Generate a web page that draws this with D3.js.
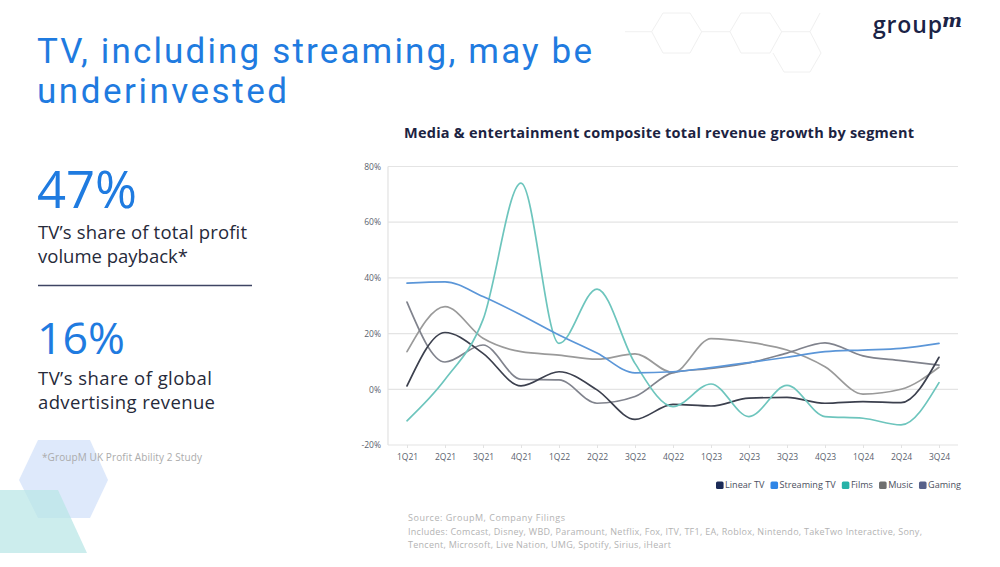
<!DOCTYPE html>
<html>
<head>
<meta charset="utf-8">
<script src="https://cdn.jsdelivr.net/npm/d3@7"></script>
<style>
  html, body { margin: 0; padding: 0; background: #ffffff; }
  svg { display: block; }
</style>
</head>
<body>
<svg id="chart" width="1000" height="567"></svg>
<script>
// ---------------- DATA ----------------
const quarters = ["1Q21","2Q21","3Q21","4Q21","1Q22","2Q22","3Q22","4Q22","1Q23","2Q23","3Q23","4Q23","1Q24","2Q24","3Q24"];
const linearTV    = [1.2, 20.4, 12.9, 1.2, 6.3, -0.2, -10.8, -5.4, -6.0, -3.2, -2.9, -5.0, -4.4, -4.8, 11.5];
const streamingTV = [38.1, 38.6, 33.3, 26.7, 19.5, 13.0, 5.9, 6.3, 7.8, 9.6, 11.5, 13.5, 14.1, 14.7, 16.5];
const films       = [-11.3, 3.5, 25.0, 74.0, 16.5, 36.0, 9.3, -6.2, 1.9, -9.8, 1.4, -9.8, -10.4, -12.8, 2.4];
const music       = [13.5, 29.7, 18.3, 13.5, 12.3, 10.8, 12.7, 6.0, 18.2, 16.9, 14.1, 8.1, -1.7, 0.0, 7.9];
const gaming      = [31.3, 9.8, 15.9, 3.6, 3.4, -5.0, -2.6, 6.0, 7.5, 9.5, 13.0, 16.7, 12.0, 10.3, 8.7];
const yTicks = [-20, 0, 20, 40, 60, 80];
const seriesNames = ["Linear TV", "Streaming TV", "Films", "Music", "Gaming"];
const seriesValues = [linearTV, streamingTV, films, music, gaming];
const legendColors = ["#1b2b57", "#2f86e6", "#26b2a7", "#6f6f6f", "#58618a"];
const lineColors   = ["#3c404e", "#5b96d8", "#6dc5bd", "#9a9a9a", "#80838d"];
const titleLines = ["TV, including streaming, may be", "underinvested"];

const FONT = "'Open Sans', 'Noto Sans', sans-serif";
const TITLE_FONT = "Roboto, 'Open Sans', sans-serif";
const svg = d3.select("#chart");

// match a target width: widen with letter-spacing, or shrink the font if too wide
function spread(sel, target) {
  const node = sel.node();
  let w = node.getComputedTextLength();
  if (w > target) {
    const fs = parseFloat(sel.attr("font-size"));
    sel.attr("font-size", fs * target / w);
    return sel;
  }
  const n = sel.text().length;
  if (n > 1) sel.attr("letter-spacing", (target - w) / (n - 1));
  return sel;
}

// ---------------- DECORATIONS ----------------
svg.append("rect").attr("width", 1000).attr("height", 567).attr("fill", "#ffffff");

const deco = svg.append("g");
deco.append("polygon")
  .attr("points", "19,480 38,440 90,440 108,480 90,518 38,518")
  .attr("fill", "#dee9fb");
deco.append("polygon")
  .attr("points", "0,490 58,490 87,553 0,553")
  .attr("fill", "#b9e6e6").attr("opacity", 0.72);

const hex = svg.append("g").attr("fill", "none").attr("stroke", "#f0f0f0").attr("stroke-width", 1);
hex.append("polyline").attr("points", "625,31.7 651.7,31.7 663,13 690,13 701.7,31.7 690,53 663,53 651.7,31.7");
hex.append("polyline").attr("points", "701.7,31.7 730,31.7 741,13 770,13 781.7,31.7 770,53 741,53 730,31.7");
hex.append("polyline").attr("points", "781.7,31.7 810,31.7 820,13");
hex.append("polyline").attr("points", "810,31.7 821,53 810,72 784,72 773,53");

// ---------------- LEFT PANEL ----------------
const blue = "#1f7be0";
const ink = "#262a3a";
const tWidths = [555, 250];
const tYs = [63, 103];
titleLines.forEach((s, i) => {
  spread(svg.append("text").attr("x", 37).attr("y", tYs[i]).attr("font-family", TITLE_FONT)
    .attr("font-size", 35).attr("fill", blue).text(s), tWidths[i]);
});

spread(svg.append("text").attr("x", 37).attr("y", 208).attr("font-family", FONT).attr("font-size", 52)
  .attr("fill", blue).text("47%"), 100);
spread(svg.append("text").attr("x", 38).attr("y", 239).attr("font-family", FONT).attr("font-size", 18.5)
  .attr("fill", ink).text("TV\u2019s share of total profit"), 209);
spread(svg.append("text").attr("x", 38).attr("y", 263).attr("font-family", FONT).attr("font-size", 18.5)
  .attr("fill", ink).text("volume payback*"), 150);
svg.append("line").attr("x1", 38).attr("x2", 252).attr("y1", 285.5).attr("y2", 285.5)
  .attr("stroke", "#3e4463").attr("stroke-width", 1.4);
spread(svg.append("text").attr("x", 37).attr("y", 354).attr("font-family", FONT).attr("font-size", 52)
  .attr("fill", blue).text("16%"), 88);
spread(svg.append("text").attr("x", 38).attr("y", 385).attr("font-family", FONT).attr("font-size", 18.5)
  .attr("fill", ink).text("TV\u2019s share of global"), 174);
spread(svg.append("text").attr("x", 38).attr("y", 409).attr("font-family", FONT).attr("font-size", 18.5)
  .attr("fill", ink).text("advertising revenue"), 177);
spread(svg.append("text").attr("x", 42).attr("y", 460.5).attr("font-family", FONT).attr("font-size", 10)
  .attr("fill", "#ababab").text("*GroupM UK Profit Ability 2 Study"), 160);

// ---------------- LOGO ----------------
spread(svg.append("text").attr("x", 873).attr("y", 33).attr("font-family", FONT).attr("font-size", 23)
  .attr("font-weight", 600).attr("fill", "#1b2346").text("group"), 69);
svg.append("text").attr("x", 942).attr("y", 27).attr("font-family", "'DejaVu Serif', serif")
  .attr("font-style", "italic").attr("font-weight", 700).attr("font-size", 19).attr("fill", "#1b2346").text("m");

// ---------------- CHART ----------------
spread(svg.append("text").attr("x", 404).attr("y", 138).attr("font-family", FONT).attr("font-size", 14.5)
  .attr("font-weight", 700).attr("fill", "#1c2342")
  .text("Media & entertainment composite total revenue growth by segment"), 510);

const x = d3.scalePoint().domain(quarters).range([388, 958]).padding(0.5);
const y = d3.scaleLinear().domain([-20, 80]).range([445, 166.5]);

const grid = svg.append("g");
grid.selectAll("line.h").data(yTicks).join("line")
  .attr("x1", 388).attr("x2", 958)
  .attr("y1", d => y(d)).attr("y2", d => y(d))
  .attr("stroke", "#e4e4e4").attr("stroke-width", 1.2);
grid.append("line").attr("x1", 388).attr("x2", 388).attr("y1", y(80)).attr("y2", y(-20))
  .attr("stroke", "#e2e2e2").attr("stroke-width", 1.2);

// y axis labels
const yAxis = d3.axisLeft(y).tickValues(yTicks).tickFormat(d => d + "%").tickSize(0).tickPadding(7);
const gy = svg.append("g").attr("transform", "translate(388,0)").call(yAxis);
gy.select(".domain").remove();
gy.selectAll("text").attr("font-family", FONT).attr("font-size", 8.5).attr("fill", "#5a5f6e");

// x axis labels
const xAxis = d3.axisBottom(x).tickSize(3).tickPadding(6);
const gx = svg.append("g").attr("transform", `translate(0,${y(-20)})`).call(xAxis);
gx.select(".domain").remove();
gx.selectAll("line").attr("stroke", "#e2e2e2");
gx.selectAll("text").attr("font-family", FONT).attr("font-size", 8.5).attr("fill", "#5a5f6e");

// lines
const line = d3.line()
  .x((d, i) => x(quarters[i]))
  .y(d => y(d))
  .curve(d3.curveMonotoneX);

const drawOrder = [3, 4, 0, 2, 1];
svg.append("g").selectAll("path").data(drawOrder).join("path")
  .attr("d", k => line(seriesValues[k]))
  .attr("fill", "none")
  .attr("stroke", k => lineColors[k])
  .attr("stroke-width", 1.7)
  .attr("stroke-linecap", "round");

// legend
const lg = svg.append("g").attr("font-family", FONT).attr("font-size", 9).attr("fill", "#4a4f5e");
let lx = 716;
seriesNames.forEach((name, i) => {
  lg.append("rect").attr("x", lx).attr("y", 481.5).attr("width", 7.5).attr("height", 7.5)
    .attr("rx", 1.5).attr("fill", legendColors[i]);
  const t = lg.append("text").attr("x", lx + 9).attr("y", 488.5).text(name);
  lx += 9 + t.node().getComputedTextLength() + 6;
});
(function () {
  const total = lx - 6 - 716;
  const k = 245 / total;
  lg.attr("transform", `translate(${716 * (1 - k)},${488 * (1 - k)}) scale(${k})`);
})();

// source
const src = svg.append("g").attr("font-family", FONT).attr("fill", "#b3b3b3");
spread(src.append("text").attr("x", 408).attr("y", 521).attr("font-size", 9)
  .text("Source: GroupM, Company Filings"), 157);
spread(src.append("text").attr("x", 408).attr("y", 534.5).attr("font-size", 9)
  .text("Includes: Comcast, Disney, WBD, Paramount, Netflix, Fox, ITV, TF1, EA, Roblox, Nintendo, TakeTwo Interactive, Sony,"), 514);
spread(src.append("text").attr("x", 408).attr("y", 548).attr("font-size", 9)
  .text("Tencent, Microsoft, Live Nation, UMG, Spotify, Sirius, iHeart"), 263);
</script>
</body>
</html>
